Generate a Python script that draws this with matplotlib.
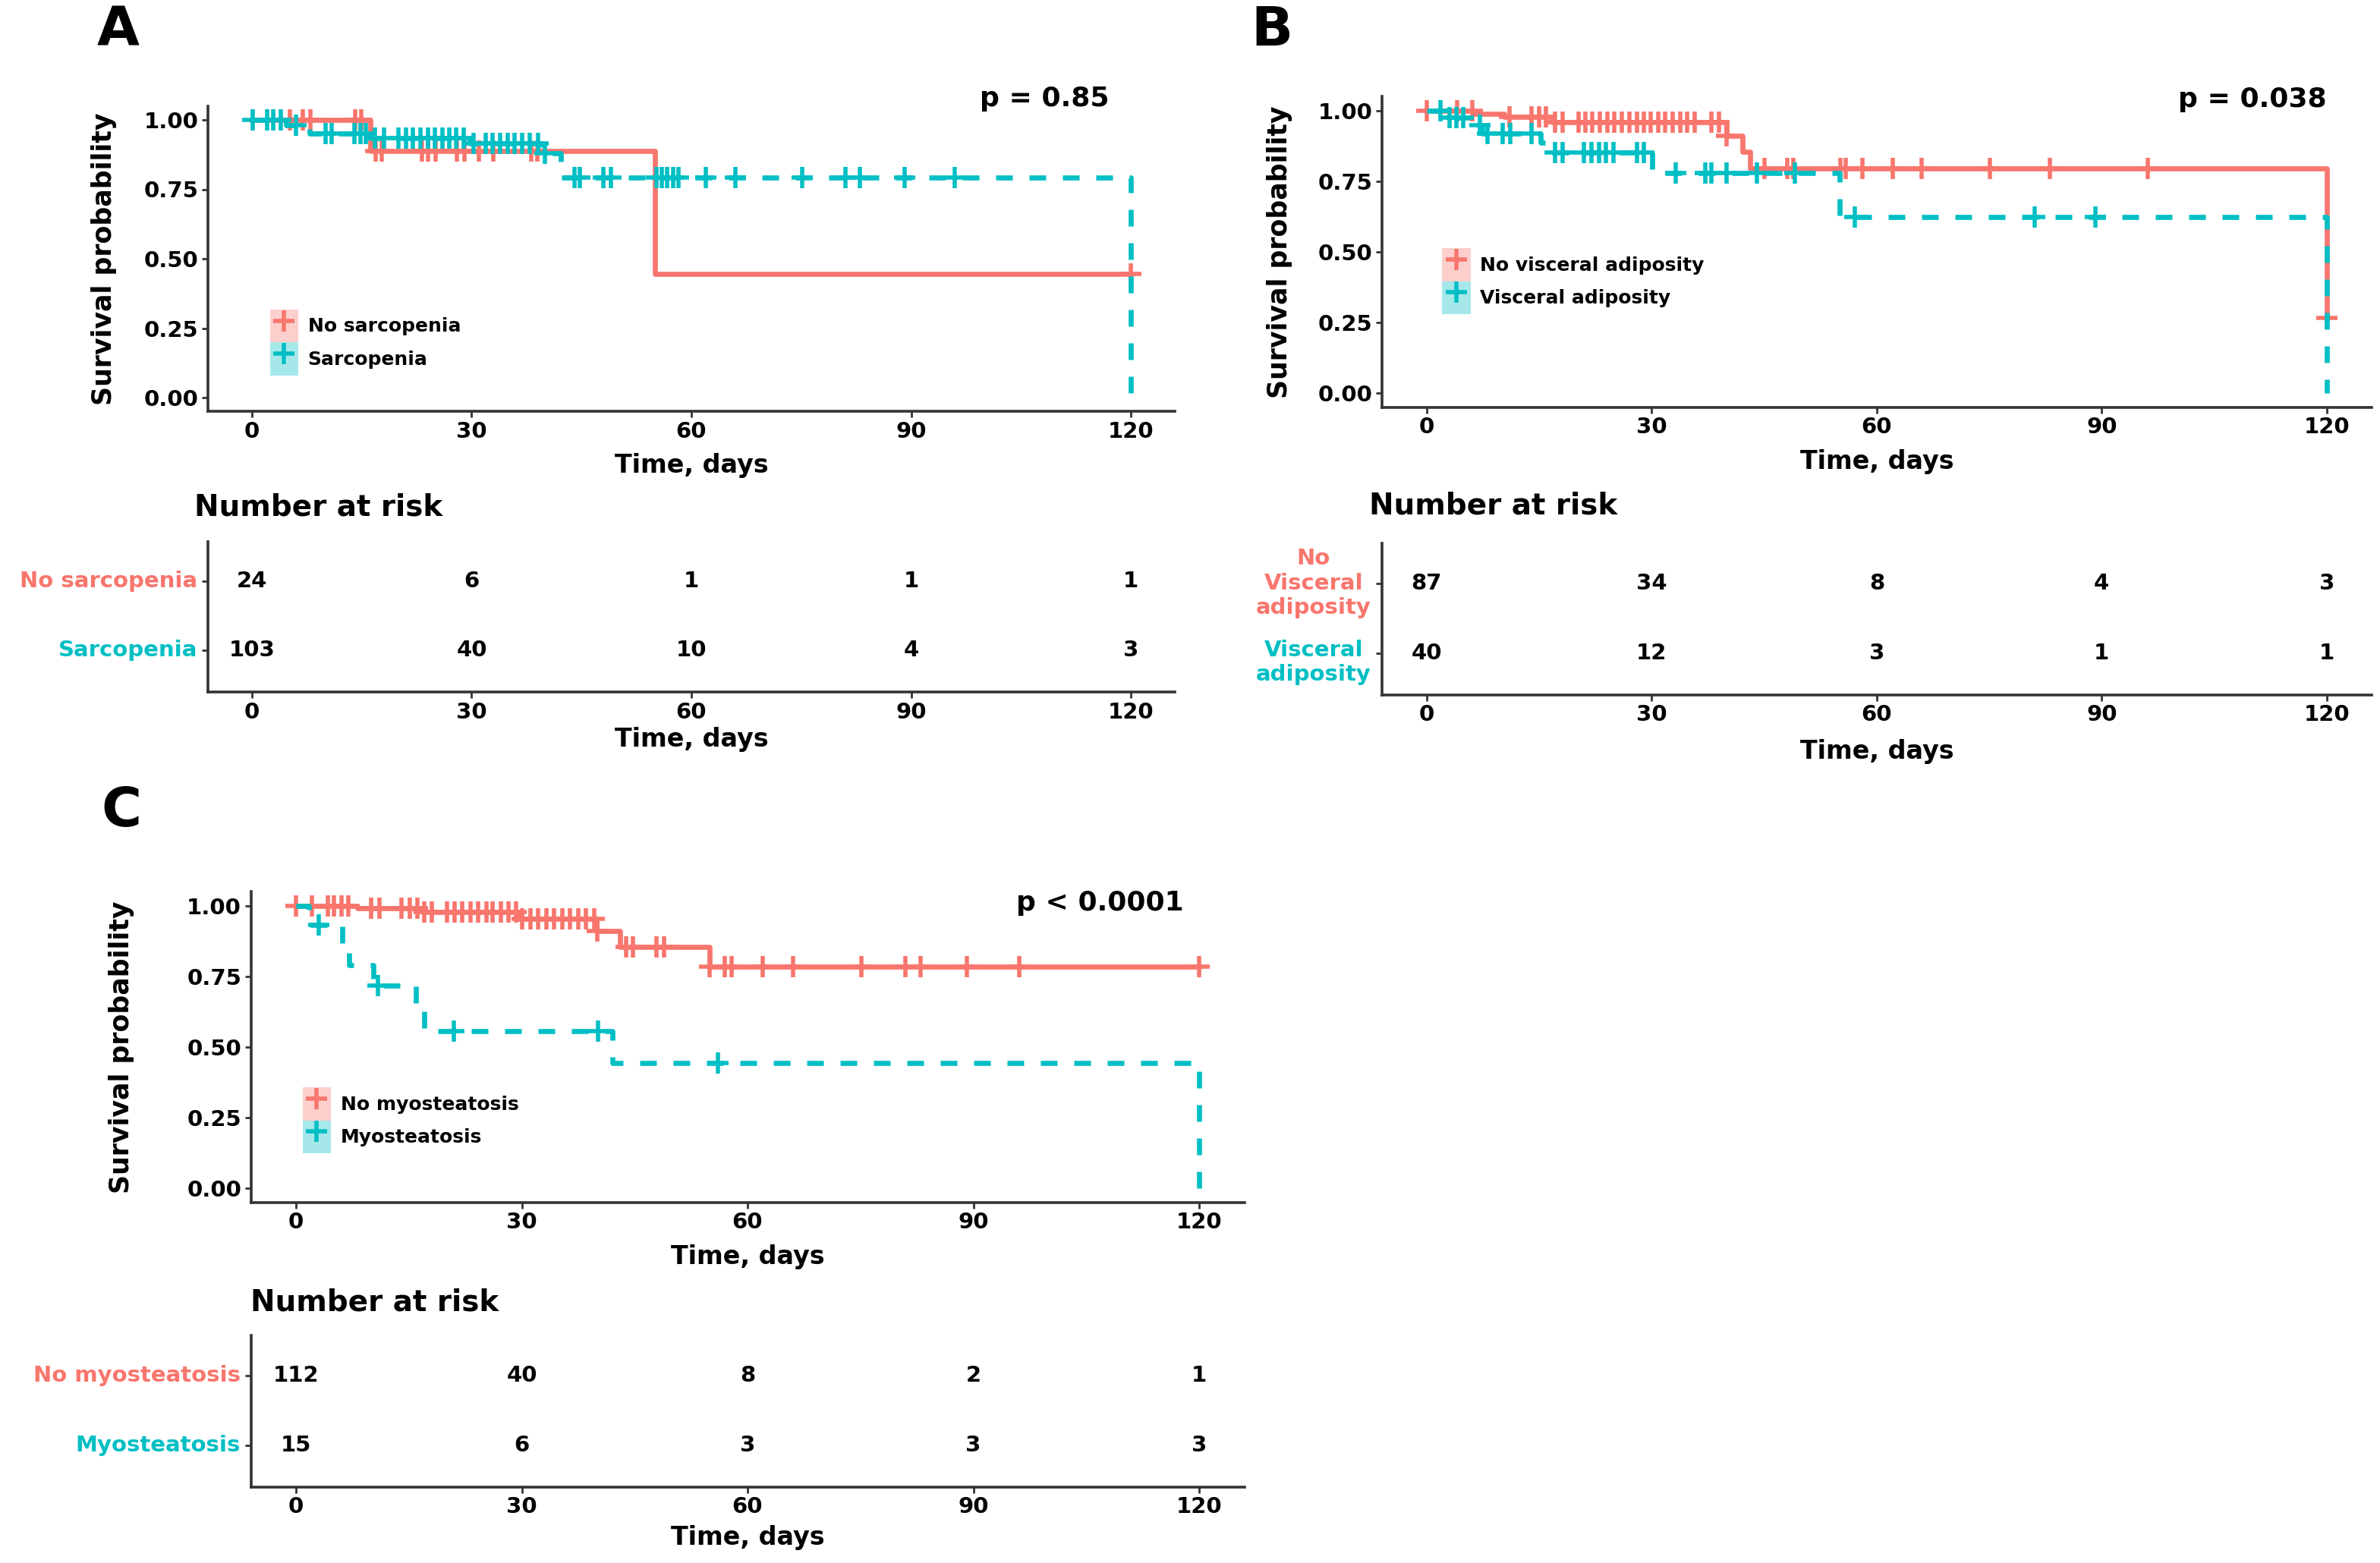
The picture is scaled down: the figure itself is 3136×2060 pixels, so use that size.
import numpy as np
import matplotlib.pyplot as plt
from matplotlib.patches import Patch
from matplotlib.lines import Line2D
from matplotlib.legend_handler import HandlerTuple

plt.rcParams['font.family'] = 'DejaVu Sans'
plt.rcParams['font.weight'] = 'bold'

RED  = '#F8766D'
TEAL = '#00BFC4'
DARK = '#333333'

# ---- panel A : sarcopenia ----
A_no_t    = [0, 16.2, 55.0, 120]
A_no_s    = [1.0, 0.889, 0.444, 0.444]
A_no_cens = [5.2, 7.0, 8.0, 14.1, 14.9, 16.9, 17.7, 23.2, 24.0, 25.1, 28.0, 29.0,
             31.0, 33.0, 38.1, 39.0, 120]
A_yes_t    = [0, 4.7, 7.9, 16.2, 29.7, 39.6, 42.2, 120]
A_yes_s    = [1.0, 0.980, 0.952, 0.935, 0.915, 0.880, 0.791, 0.0]
A_yes_cens = [0.1, 2.1, 2.9, 3.9, 6.0, 10.1, 10.9, 14.0, 14.8, 15.6, 16.8, 18.0,
              20.0, 21.0, 22.0, 23.0, 24.0, 25.0, 26.0, 26.9, 27.9, 28.9, 30.3,
              31.9, 32.9, 33.9, 34.9, 35.9, 36.9, 37.9, 39.1, 40.0, 44.0, 44.8,
              48.0, 49.0, 55.2, 56.0, 56.7, 57.5, 58.2, 62.0, 66.0, 75.1, 81.0,
              83.0, 89.1, 96.0]
A_labels = ['No sarcopenia', 'Sarcopenia']
A_risk   = [[24, 6, 1, 1, 1], [103, 40, 10, 4, 3]]
A_p      = 'p = 0.85'

# ---- panel B : visceral adiposity ----
B_no_t    = [0, 6.2, 10.3, 16.7, 40.0, 42.1, 43.1, 120]
B_no_s    = [1.0, 0.988, 0.978, 0.961, 0.910, 0.856, 0.796, 0.265]
B_no_cens = [0.0, 4.0, 6.1, 11.0, 14.0, 15.0, 15.9, 17.1, 18.1, 20.2, 21.2, 22.1,
             23.1, 24.1, 25.0, 26.0, 27.0, 28.0, 28.9, 29.9, 30.9, 31.8, 32.8,
             33.8, 34.7, 35.7, 38.0, 39.0, 40.0, 45.0, 48.1, 48.9, 55.2, 55.9,
             58.1, 62.1, 66.0, 75.1, 83.1, 96.1, 120]
B_yes_t    = [0, 2.0, 6.1, 7.4, 15.2, 15.9, 30.1, 55.1, 120]
B_yes_s    = [1.0, 0.975, 0.949, 0.919, 0.888, 0.852, 0.780, 0.623, 0.0]
B_yes_cens = [1.8, 3.0, 3.9, 4.9, 7.1, 8.1, 10.1, 11.1, 14.0, 17.1, 18.1, 21.0,
              22.0, 23.0, 23.9, 24.9, 28.0, 28.9, 33.2, 37.1, 38.0, 40.0, 44.0,
              49.1, 57.1, 81.1, 89.2]
B_labels      = ['No visceral adiposity', 'Visceral adiposity']
B_risk_labels = ['No\nVisceral\nadiposity', 'Visceral\nadiposity']
B_risk        = [[87, 34, 8, 4, 3], [40, 12, 3, 1, 1]]
B_p           = 'p = 0.038'

# ---- panel C : myosteatosis ----
C_no_t    = [0, 8.2, 16.7, 29.5, 39.9, 43.1, 55.0, 120]
C_no_s    = [1.0, 0.991, 0.979, 0.955, 0.910, 0.856, 0.786, 0.786]
C_no_cens = [0.0, 2.1, 4.2, 5.0, 6.1, 7.0, 10.0, 11.1, 14.0, 15.1, 16.1, 17.0,
             18.1, 20.1, 21.1, 22.1, 23.2, 24.2, 25.3, 26.1, 27.2, 28.2, 29.2,
             30.1, 31.2, 32.2, 33.3, 34.3, 35.4, 36.4, 37.5, 38.5, 39.6, 40.0,
             43.9, 44.8, 47.9, 48.9, 55.0, 57.0, 57.9, 62.0, 66.0, 75.1, 81.0,
             83.0, 89.1, 96.1, 120]
C_yes_t    = [0, 1.7, 6.2, 7.1, 10.3, 15.9, 17.0, 42.0, 120]
C_yes_s    = [1.0, 0.933, 0.860, 0.789, 0.718, 0.640, 0.556, 0.444, 0.0]
C_yes_cens = [3.0, 10.9, 21.0, 40.1, 56.1]
C_labels = ['No myosteatosis', 'Myosteatosis']
C_risk   = [[112, 40, 8, 2, 1], [15, 6, 3, 3, 3]]
C_p      = 'p < 0.0001'

risk_times = [0, 30, 60, 90, 120]

W, H = 3136, 2060


def surv_at(t, s, x):
    i = np.searchsorted(t, x, side='right') - 1
    return np.asarray(s)[i]


def frac(x0, y_top, x1, y_bot):
    return [x0 / W, 1 - y_bot / H, (x1 - x0) / W, (y_bot - y_top) / H]


def km_panel(rect, curves, labels, p_text, p_pos, leg_anchor, ylab_x):
    ax = fig.add_axes(rect)
    for (t, s, cens, col, ls) in curves:
        ax.step(t, s, where='post', color=col, lw=2.4, ls=ls)
        ax.plot(cens, surv_at(t, s, cens), ls='none', marker='+', ms=10,
                mew=2.0, color=col)
    ax.set_xlim(-6, 126)
    ax.set_ylim(-0.05, 1.05)
    ax.set_xticks(risk_times)
    ax.set_yticks([0, 0.25, 0.5, 0.75, 1.0])
    ax.set_yticklabels(['0.00', '0.25', '0.50', '0.75', '1.00'])
    for sp in ['top', 'right']:
        ax.spines[sp].set_visible(False)
    for sp in ['left', 'bottom']:
        ax.spines[sp].set_color(DARK)
        ax.spines[sp].set_linewidth(1.3)
    ax.tick_params(length=3, width=1, color=DARK, labelsize=10.5, pad=1.5)
    ax.set_ylabel('Survival probability', fontsize=12.5, fontweight='bold')
    ax.yaxis.set_label_coords(ylab_x, 0.5)
    ax.set_xlabel('Time, days', fontsize=12, fontweight='bold')
    ax.xaxis.set_label_coords(0.5, -0.135)
    ax.text(p_pos[0], p_pos[1], p_text, ha='right', va='center', fontsize=13,
            fontweight='bold', clip_on=False)
    handles = []
    for col in [RED, TEAL]:
        handles.append((Patch(facecolor=col, alpha=0.35, edgecolor='none'),
                        Line2D([], [], color=col, marker='+', ls='none', ms=10, mew=2.0)))
    ax.legend(handles, labels, handler_map={tuple: HandlerTuple(ndivide=1, pad=0)},
              loc='upper left', bbox_to_anchor=leg_anchor, frameon=False,
              prop={'weight': 'bold', 'size': 9}, handlelength=1.5,
              handleheight=2.3, labelspacing=0, borderpad=0, borderaxespad=0,
              handletextpad=0.5)
    return ax


def risk_panel(rect, risk, labels, xlab_y, title_xy, first_line_align=False):
    ax = fig.add_axes(rect)
    ax.set_xlim(-6, 126)
    ax.set_ylim(0.4, 2.57)
    ax.set_xticks(risk_times)
    ax.set_yticks([2, 1])
    ax.set_yticklabels([])
    for sp in ['top', 'right']:
        ax.spines[sp].set_visible(False)
    for sp in ['left', 'bottom']:
        ax.spines[sp].set_color(DARK)
        ax.spines[sp].set_linewidth(1.3)
    ax.tick_params(length=3, width=1, color=DARK, labelsize=10.5, pad=1.5)
    ax.set_xlabel('Time, days', fontsize=12, fontweight='bold')
    ax.xaxis.set_label_coords(0.5, xlab_y)
    for row, vals, lab, col in zip([2, 1], risk, labels, [RED, TEAL]):
        for tt, v in zip(risk_times, vals):
            ax.text(tt, row, str(v), ha='center', va='center', fontsize=10.5,
                    fontweight='bold')
        dy = 0
        va = 'center'
        if first_line_align and row == 1:
            va = 'top'
            dy = 6.5
        ax.annotate(lab, xy=(0, row), xycoords=ax.get_yaxis_transform(),
                    xytext=(-5, dy), textcoords='offset points', ha='right',
                    va=va, multialignment='center', color=col, fontsize=10.5,
                    fontweight='bold')
    fig.text(title_xy[0] / W, 1 - title_xy[1] / H, 'Number at risk', ha='left',
             va='center', fontsize=14, fontweight='bold')
    return ax


fig = plt.figure(figsize=(W / 200, H / 200), dpi=200)

dash = (0, (3.3, 3.3))

# A
km_panel(frac(274, 139.7, 1548, 542.3),
         [(A_no_t, A_no_s, A_no_cens, RED, '-'),
          (A_yes_t, A_yes_s, A_yes_cens, TEAL, dash)],
         A_labels, A_p, (117, 1.077), (0.064, 0.334), -0.094)
risk_panel(frac(274, 714, 1548, 912), A_risk, A_labels, -0.23, (256, 668))

# B
km_panel(frac(1820.7, 127.4, 3125, 536.6),
         [(B_no_t, B_no_s, B_no_cens, RED, '-'),
          (B_yes_t, B_yes_s, B_yes_cens, TEAL, dash)],
         B_labels, B_p, (120, 1.04), (0.061, 0.512), -0.09)
risk_panel(frac(1820.7, 716, 3125, 916), B_risk, B_risk_labels, -0.29,
           (1804, 666), first_line_align=True)

# C
km_panel(frac(330.5, 1175.4, 1639.5, 1584.6),
         [(C_no_t, C_no_s, C_no_cens, RED, '-'),
          (C_yes_t, C_yes_s, C_yes_cens, TEAL, dash)],
         C_labels, C_p, (118, 1.011), (0.052, 0.370), -0.117)
risk_panel(frac(330.5, 1760, 1639.5, 1960), C_risk, C_labels, -0.25, (330, 1716))

for lab, x, y in [('A', 156, 40), ('B', 1676, 40), ('C', 160, 1070)]:
    fig.text(x / W, 1 - y / H, lab, ha='center', va='center', fontsize=26,
             fontweight='bold')

fig.savefig('out.png', dpi=200, facecolor='white')
